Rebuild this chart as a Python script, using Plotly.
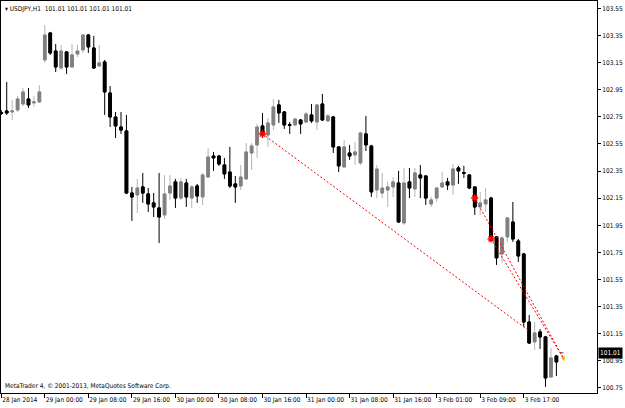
import plotly.graph_objects as go

# ---- data (USDJPY H1) ----
tick_labels = ["28 Jan 2014", "29 Jan 00:00", "29 Jan 08:00", "29 Jan 16:00",
               "30 Jan 00:00", "30 Jan 08:00", "30 Jan 16:00", "31 Jan 00:00",
               "31 Jan 08:00", "31 Jan 16:00", "3 Feb 01:00", "3 Feb 09:00",
               "3 Feb 17:00"]
tick_bars = [0, 8, 16, 24, 32, 40, 48, 56, 64, 72, 80, 88, 96]

opens = [102.781, 102.793, 102.786, 102.801, 102.845, 102.882, 102.853, 102.860,
         103.170, 103.369, 103.236, 103.111, 103.229, 103.118, 103.214, 103.244,
         103.354, 103.258, 103.126, 103.155, 102.926, 102.749, 102.675, 102.646,
         102.188, 102.174, 102.233, 102.181, 102.115, 102.078, 102.026, 102.188,
         102.270, 102.151, 102.262, 102.151, 102.240, 102.159, 102.306, 102.461,
         102.461, 102.395, 102.343, 102.255, 102.240, 102.292, 102.483, 102.543,
         102.683, 102.616, 102.690, 102.838, 102.786, 102.692, 102.690, 102.727,
         102.712, 102.764, 102.712, 102.845, 102.720, 102.749, 102.528, 102.380,
         102.483, 102.469, 102.410, 102.624, 102.535, 102.210, 102.188, 102.210,
         102.233, 102.262, 101.967, 102.270, 102.218, 102.321, 102.314, 102.107,
         102.151, 102.233, 102.270, 102.247, 102.373, 102.338, 102.321, 102.233,
         102.085, 102.107, 102.151, 101.864, 101.738, 101.864, 101.974, 101.834,
         101.738, 101.236, 101.089, 101.163, 101.126, 100.830, 100.985, 101.010]
highs = [102.800, 103.008, 102.875, 102.904, 102.963, 102.963, 102.904, 102.985,
         103.428, 103.377, 103.288, 103.281, 103.236, 103.288, 103.281, 103.362,
         103.362, 103.347, 103.281, 103.170, 102.978, 102.786, 102.786, 102.764,
         102.233, 102.292, 102.336, 102.225, 102.188, 102.336, 102.321, 102.321,
         102.292, 102.299, 102.292, 102.247, 102.255, 102.336, 102.520, 102.491,
         102.469, 102.447, 102.528, 102.314, 102.395, 102.557, 102.557, 102.698,
         102.779, 102.742, 102.882, 102.875, 102.793, 102.712, 102.742, 102.734,
         102.786, 102.845, 102.845, 102.919, 102.771, 102.757, 102.528, 102.579,
         102.543, 102.565, 102.639, 102.757, 102.543, 102.395, 102.336, 102.270,
         102.306, 102.351, 102.373, 102.373, 102.373, 102.395, 102.314, 102.159,
         102.233, 102.343, 102.299, 102.402, 102.388, 102.388, 102.329, 102.233,
         102.196, 102.225, 102.159, 101.871, 101.871, 102.011, 102.122, 101.849,
         101.746, 101.288, 101.236, 101.185, 101.133, 101.044, 100.993, 101.010]
lows = [102.764, 102.764, 102.727, 102.786, 102.830, 102.816, 102.823, 102.853,
        103.148, 103.207, 103.081, 103.096, 103.067, 103.111, 103.192, 103.222,
        103.222, 103.103, 103.118, 102.764, 102.675, 102.594, 102.624, 102.180,
        101.982, 102.041, 102.115, 102.048, 102.011, 101.819, 101.996, 102.137,
        102.078, 102.137, 102.085, 102.078, 102.115, 102.100, 102.299, 102.351,
        102.388, 102.292, 102.225, 102.115, 102.210, 102.284, 102.358, 102.447,
        102.594, 102.528, 102.653, 102.705, 102.661, 102.624, 102.683, 102.624,
        102.705, 102.705, 102.653, 102.720, 102.712, 102.483, 102.343, 102.380,
        102.432, 102.395, 102.395, 102.498, 102.159, 102.151, 102.151, 102.085,
        102.159, 101.967, 101.952, 102.151, 102.159, 102.151, 102.100, 102.085,
        102.122, 102.225, 102.210, 102.174, 102.255, 102.299, 102.218, 102.026,
        102.026, 102.048, 101.842, 101.657, 101.672, 101.827, 101.827, 101.679,
        101.199, 101.074, 101.030, 101.037, 100.757, 100.823, 100.838, 101.010]
closes = [102.777, 102.779, 102.793, 102.882, 102.934, 102.838, 102.860, 102.934,
          103.354, 103.222, 103.118, 103.236, 103.118, 103.207, 103.236, 103.354,
          103.266, 103.111, 103.148, 102.934, 102.749, 102.683, 102.653, 102.188,
          102.159, 102.225, 102.188, 102.107, 102.085, 102.011, 102.181, 102.240,
          102.151, 102.270, 102.159, 102.233, 102.166, 102.321, 102.454, 102.447,
          102.402, 102.329, 102.240, 102.233, 102.306, 102.491, 102.535, 102.675,
          102.624, 102.705, 102.823, 102.779, 102.690, 102.688, 102.734, 102.698,
          102.771, 102.720, 102.838, 102.727, 102.757, 102.528, 102.388, 102.528,
          102.461, 102.491, 102.631, 102.543, 102.196, 102.365, 102.225, 102.233,
          102.270, 101.974, 102.262, 102.225, 102.336, 102.299, 102.151, 102.137,
          102.225, 102.262, 102.247, 102.365, 102.351, 102.334, 102.225, 102.085,
          102.115, 102.137, 101.856, 101.709, 101.856, 102.004, 101.849, 101.723,
          101.236, 101.081, 101.155, 101.126, 100.823, 100.971, 100.941, 101.010]

# trade history lines (open bar, open price) -> (close bar, close price)
trade_open_bar = [48, 87, 90]
trade_open_price = [102.624, 102.151, 101.849]
trade_close_bar = [97, 103.3, 103.3]
trade_close_price = [101.17, 100.968, 100.968]

last_price = 101.01
y_ticks = [100.75, 100.95, 101.15, 101.35, 101.55, 101.75, 101.95, 102.15,
           102.35, 102.55, 102.75, 102.95, 103.15, 103.35, 103.55]

bars = list(range(len(opens)))
body_hi = [max(o, c) for o, c in zip(opens, closes)]
body_lo = [min(o, c) for o, c in zip(opens, closes)]

FONT = "Liberation Sans Narrow, Arial Narrow, DejaVu Sans Condensed, Liberation Sans, Arial"

fig = go.Figure()
# wicks
fig.add_trace(go.Candlestick(
    x=bars, open=opens, high=highs, low=lows, close=closes,
    increasing=dict(line=dict(color="#b4b4b4", width=1), fillcolor="#808080"),
    decreasing=dict(line=dict(color="#000000", width=1), fillcolor="#000000"),
    whiskerwidth=0, showlegend=False, hoverinfo="skip"))
# bodies
fig.add_trace(go.Candlestick(
    x=bars, open=opens, high=body_hi, low=body_lo, close=closes,
    increasing=dict(line=dict(color="#808080", width=1), fillcolor="#808080"),
    decreasing=dict(line=dict(color="#000000", width=1), fillcolor="#000000"),
    whiskerwidth=0, showlegend=False, hoverinfo="skip"))

# trade lines
for ob, op, cb, cp in zip(trade_open_bar, trade_open_price, trade_close_bar, trade_close_price):
    fig.add_trace(go.Scatter(x=[ob, cb], y=[op, cp], mode="lines",
                             line=dict(color="#ff0000", width=1, dash="2px,2px"),
                             showlegend=False, hoverinfo="skip"))
fig.add_trace(go.Scatter(x=trade_open_bar, y=trade_open_price, mode="markers",
                         marker=dict(symbol="asterisk-open", size=6, color="#ff0000",
                                     line=dict(color="#ff0000", width=1.5)),
                         showlegend=False, hoverinfo="skip"))
fig.add_trace(go.Scatter(x=[trade_close_bar[1]], y=[trade_close_price[1]], mode="markers",
                         marker=dict(symbol="triangle-left", size=5, color="#e8b020"),
                         showlegend=False, hoverinfo="skip"))

fig.update_layout(
    width=625, height=408,
    margin=dict(l=1, r=28, t=1, b=15),
    paper_bgcolor="white", plot_bgcolor="white",
    font=dict(family=FONT, size=6.5, color="black"),
    xaxis=dict(range=[-0.05, 109.46], tickmode="array", tickvals=tick_bars,
               ticktext=tick_labels, ticks="outside", ticklen=4, tickcolor="black",
               tickangle=0,
               ticklabelposition="outside right", showgrid=False, zeroline=False,
               showline=True, linecolor="black", linewidth=1, mirror=True,
               rangeslider=dict(visible=False), tickfont=dict(size=6.5)),
    yaxis=dict(range=[100.712, 103.605], side="right", tickmode="array",
               tickvals=y_ticks, ticktext=[f"{v:.2f}" for v in y_ticks],
               ticks="outside", ticklen=3, tickcolor="black",
               showgrid=False, zeroline=False, showline=True, linecolor="black",
               linewidth=1, mirror=True, tickfont=dict(size=6.5)),
)

fig.add_annotation(xref="paper", yref="y", x=1.0, y=last_price, xanchor="left",
                   yanchor="middle", text=f"{last_price:.2f}", showarrow=False,
                   bgcolor="black", font=dict(color="white", size=6.5), borderpad=1,
                   xshift=1)
fig.add_annotation(xref="paper", yref="paper", x=0.0, y=1.0, xanchor="left",
                   yanchor="top", xshift=2, yshift=-2,
                   text="▾ USDJPY,H1  101.01 101.01 101.01 101.01",
                   showarrow=False, font=dict(size=6.5))
fig.add_annotation(xref="paper", yref="paper", x=0.0, y=0.0, xanchor="left",
                   yanchor="bottom", xshift=2, yshift=1,
                   text="MetaTrader 4, © 2001-2013, MetaQuotes Software Corp.",
                   showarrow=False, font=dict(size=6.5))

fig.write_html("out.html")
